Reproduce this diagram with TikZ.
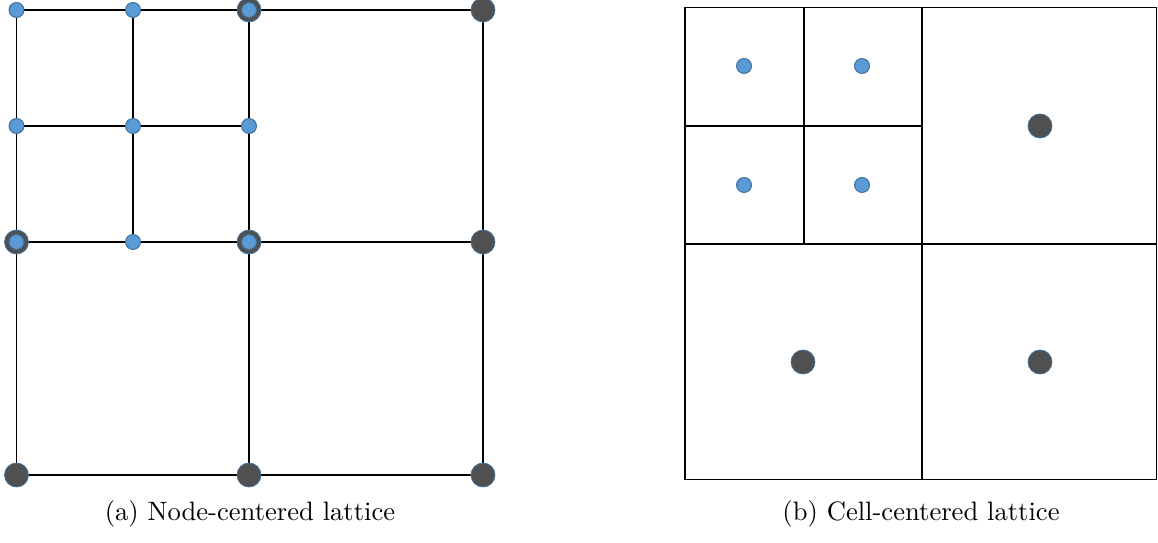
\documentclass[tikz,border=0pt]{standalone}
\usepackage{tikz}
\usetikzlibrary{shapes,positioning}

\definecolor{dotblue}{HTML}{5B9BD5}
\definecolor{dotedge}{HTML}{41719C}
\definecolor{dotdark}{HTML}{505050}

\begin{document}
\begin{tikzpicture}[x=0.01322cm, y=-0.01322cm]
    % Define styles
    \tikzstyle{grid} = [line width=0.6pt, black]
    \tikzstyle{fine} = [draw=dotedge, fill=dotblue, circle, line width=0.4pt, inner sep=0pt, minimum size=5.6pt]
    \tikzstyle{coarse} = [draw=dotedge, fill=dotdark, circle, line width=0.3pt, inner sep=0pt, minimum size=9pt]
    \tikzstyle{caption} = [font=\normalsize, anchor=center]

    \useasboundingbox (0,0) rectangle (1158,543);

    % Left: node-centered lattice points
    \coordinate (a11) at (16.5,10);   \coordinate (a12) at (133,10);   \coordinate (a13) at (249,10);   \coordinate (a14) at (483,10);
    \coordinate (a21) at (16.5,126);  \coordinate (a22) at (133,126);  \coordinate (a23) at (249,126);
    \coordinate (a31) at (16.5,242);  \coordinate (a32) at (133,242);  \coordinate (a33) at (249,242);  \coordinate (a34) at (483,242);
    \coordinate (a41) at (16.5,475);  \coordinate (a43) at (249,475);  \coordinate (a44) at (483,475);

    % Left: lattice lines
    \draw[grid] (a11) -- (a14);
    \draw[grid] (a21) -- (a23);
    \draw[grid] (a31) -- (a34);
    \draw[grid] (a41) -- (a44);
    \draw[grid] (a11) -- (a41);
    \draw[grid] (a12) -- (a32);
    \draw[grid] (a13) -- (a43);
    \draw[grid] (a14) -- (a44);

    % Left: coarse nodes
    \node[coarse] (c13) at (a13) {};
    \node[coarse] (c14) at (a14) {};
    \node[coarse] (c31) at (a31) {};
    \node[coarse] (c33) at (a33) {};
    \node[coarse] (c34) at (a34) {};
    \node[coarse] (c41) at (a41) {};
    \node[coarse] (c43) at (a43) {};
    \node[coarse] (c44) at (a44) {};

    % Left: fine nodes
    \node[fine] (f11) at (a11) {};
    \node[fine] (f12) at (a12) {};
    \node[fine] (f13) at (a13) {};
    \node[fine] (f21) at (a21) {};
    \node[fine] (f22) at (a22) {};
    \node[fine] (f23) at (a23) {};
    \node[fine] (f31) at (a31) {};
    \node[fine] (f32) at (a32) {};
    \node[fine] (f33) at (a33) {};

    \node[caption] (capa) at (250,514) {(a) Node-centered lattice};

    % Right: cell-centered lattice cells
    \coordinate (b11) at (685,7.5);   \coordinate (b12) at (804,7.5);   \coordinate (b13) at (922,7.5);   \coordinate (b14) at (1156.5,7.5);
    \coordinate (b21) at (685,126);   \coordinate (b23) at (922,126);
    \coordinate (b31) at (685,244);   \coordinate (b32) at (804,244);   \coordinate (b33) at (922,244);   \coordinate (b34) at (1156.5,244);
    \coordinate (b41) at (685,479.5); \coordinate (b43) at (922,479.5); \coordinate (b44) at (1156.5,479.5);

    \draw[grid] (b11) rectangle (b44);
    \draw[grid] (b13) -- (b43);
    \draw[grid] (b31) -- (b34);
    \draw[grid] (b12) -- (b32);
    \draw[grid] (b21) -- (b23);

    % Right: cell centres
    \node[fine] (g1) at (744,66) {};
    \node[fine] (g2) at (862,66) {};
    \node[fine] (g3) at (744,185) {};
    \node[fine] (g4) at (862,185) {};
    \node[coarse] (h1) at (1040,126) {};
    \node[coarse] (h2) at (803,362) {};
    \node[coarse] (h3) at (1040,362) {};

    \node[caption] (capb) at (921,514) {(b) Cell-centered lattice};
\end{tikzpicture}
\end{document}
